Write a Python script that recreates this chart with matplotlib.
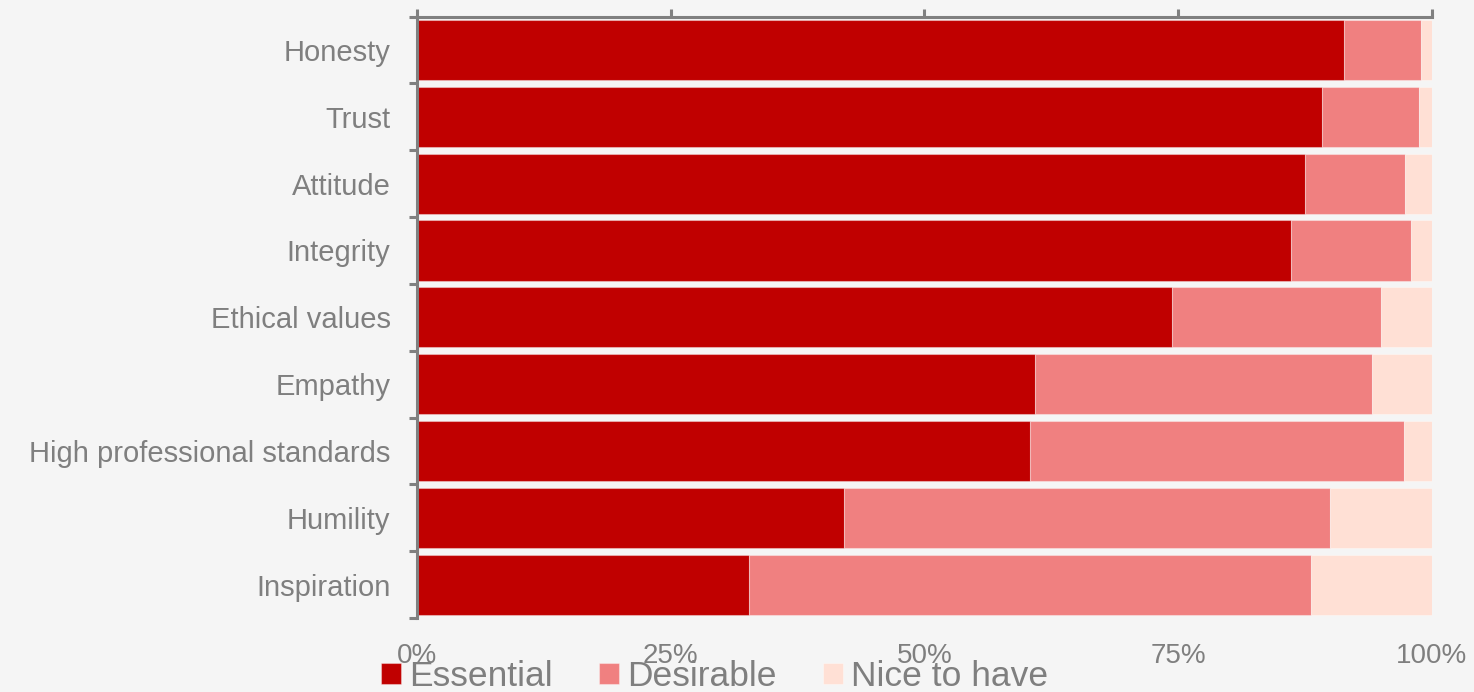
import matplotlib
matplotlib.use("Agg")
import matplotlib.pyplot as plt
import numpy as np

# Share of respondents rating each quality (percent)
qualities = ["Honesty", "Trust", "Attitude", "Integrity", "Ethical values",
             "Empathy", "High professional standards", "Humility", "Inspiration"]
essential = [91.3, 89.2, 87.5, 86.1, 74.4, 60.9, 60.4, 42.1, 32.7]
desirable = [7.6, 9.5, 9.8, 11.8, 20.6, 33.2, 36.8, 47.9, 55.4]
nice_to_have = [1.1, 1.3, 2.7, 2.1, 5.0, 5.9, 2.8, 10.0, 11.9]
series_names = ["Essential", "Desirable", "Nice to have"]
tick_values = [0, 25, 50, 75, 100]
tick_labels = ["0%", "25%", "50%", "75%", "100%"]

colors = ["#C00000", "#F08080", "#FFE0D5"]
grey = "#7F7F7F"
bg = "#F5F5F5"

plt.rcParams["font.family"] = ["Liberation Sans", "DejaVu Sans"]

fig = plt.figure(figsize=(14.74, 6.92), dpi=100, facecolor=bg)
ax = fig.add_axes([0.2829, 0.1069, 0.9715 - 0.2829, 0.976 - 0.1069])
ax.set_facecolor(bg)

y = np.arange(len(qualities))
left = np.zeros(len(qualities))
handles = []
for name, vals, col in zip(series_names, [essential, desirable, nice_to_have], colors):
    vals = np.array(vals)
    h = ax.barh(y, vals, left=left, height=0.9, color=col, label=name,
                edgecolor=(1, 1, 1, 0.35), linewidth=0.8)
    handles.append(h)
    left += vals

ax.set_xlim(0, 100)
ax.set_ylim(len(qualities) - 0.5, -0.5)

# spines: only top and left
for s in ["right", "bottom"]:
    ax.spines[s].set_visible(False)
for s in ["top", "left"]:
    ax.spines[s].set_color("#808080")
    ax.spines[s].set_linewidth(2.2)

# x ticks drawn on the top spine, labels shown below the plot
ax.set_xticks(tick_values)
ax.set_xticklabels(tick_labels)
ax.xaxis.set_ticks_position("top")
ax.tick_params(axis="x", which="major", direction="out", length=6, width=2.2,
               color="#808080", labeltop=False, labelbottom=True,
               labelsize=20, labelcolor=grey, pad=12)

# y labels centred on bars, tick marks on category boundaries
ax.set_yticks(y)
ax.set_yticklabels(qualities)
ax.set_yticks(np.arange(len(qualities) + 1) - 0.5, minor=True)
ax.tick_params(axis="y", which="major", length=0, labelsize=21,
               labelcolor=grey, pad=19)
ax.tick_params(axis="y", which="minor", direction="out", length=6, width=2.2,
               color="#808080")

fig.legend(handles=handles, labels=series_names, loc="center",
           bbox_to_anchor=(0.485, 0.022), ncol=3, frameon=False,
           fontsize=25.5, labelcolor=grey, handlelength=0.55, handleheight=0.55,
           handletextpad=0.25, columnspacing=1.3, borderaxespad=0, borderpad=0)

fig.savefig("out.png", dpi=100, facecolor=bg)
